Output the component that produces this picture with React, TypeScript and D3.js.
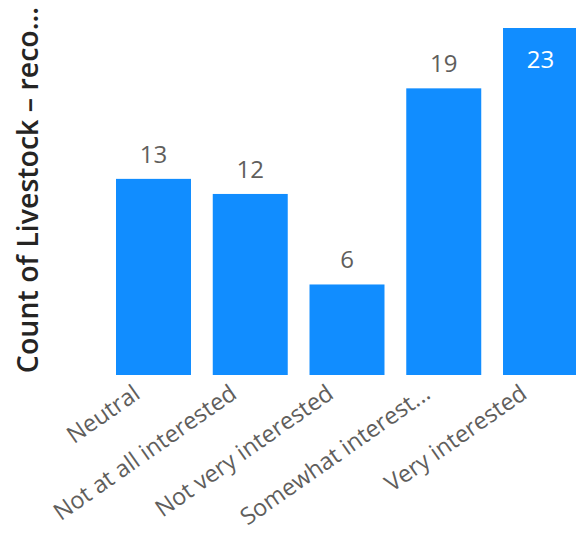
import React from "react";
import * as d3 from "d3";

const categories = ["Neutral", "Not at all interested", "Not very interested", "Somewhat interest...", "Very interested"];
const values = [13, 12, 6, 19, 23];
const yTitle = "Count of Livestock – reco...";

const W = 576, H = 534;
const FONT = "'Segoe UI', 'Open Sans', 'Noto Sans', sans-serif";

export default function App() {
  const x = d3.scaleBand<string>().domain(categories).range([116, 578]).paddingInner(0.225).paddingOuter(0);
  const y = d3.scaleLinear().domain([0, 23]).range([375, 28]);
  return (
    <svg width={W} height={H} style={{ position: "absolute", left: 0, top: 0 }}>
      <rect width={W} height={H} fill="#fff" />
      {categories.map((c, i) => {
        const v = values[i];
        const bx = x(c)!;
        const cx = bx + x.bandwidth() / 2;
        const inside = y(v) < 60;
        return (
          <g key={c}>
            <rect x={bx} y={y(v)} width={x.bandwidth()} height={y(0) - y(v)} fill="#118DFF" />
            <text x={cx} y={inside ? y(v) + 40 : y(v) - 16} textAnchor="middle" fontFamily={FONT} fontSize={24} fill={inside ? "#fff" : "#605E5C"}>{v}</text>
            <text transform={`translate(${cx - 12},${397}) rotate(-35)`} textAnchor="end" fontFamily={FONT} fontSize={23.5} fill="#605E5C">{c}</text>
          </g>
        );
      })}
      <text transform={`translate(38,${190}) rotate(-90)`} textAnchor="middle" fontFamily={FONT} fontSize={28.5} fontWeight={600} fill="#252423">{yTitle}</text>
    </svg>
  );
}
